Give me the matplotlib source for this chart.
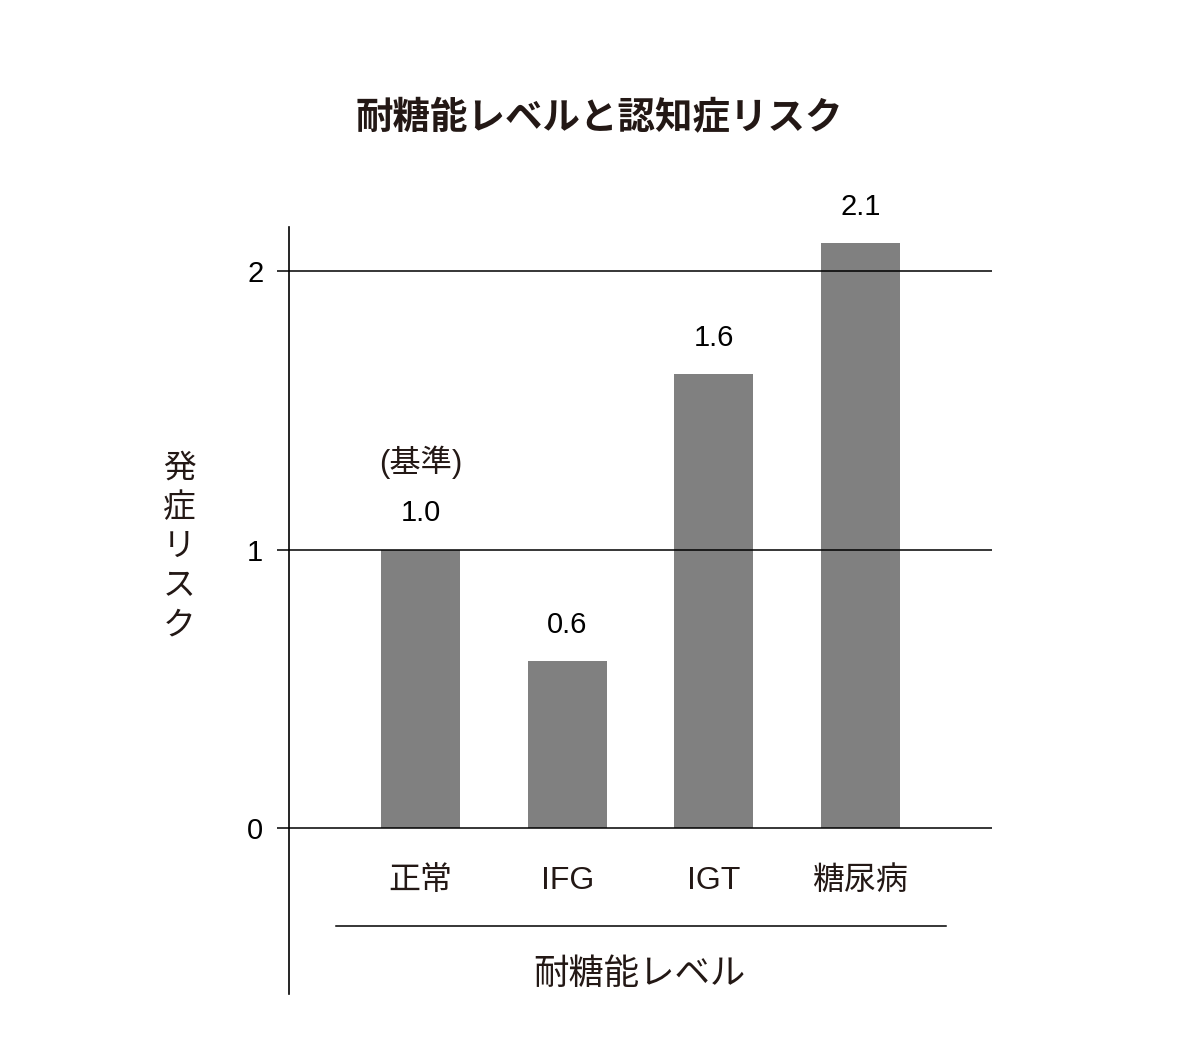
import matplotlib
matplotlib.use("Agg")
import matplotlib.pyplot as plt

plt.rcParams['font.family'] = ['Noto Sans CJK JP', 'DejaVu Sans']

# data
categories = ['正常', 'IFG', 'IGT', '糖尿病']
risk = [1.0, 0.6, 1.63, 2.1]
risk_labels = ['1.0', '0.6', '1.6', '2.1']
yticks = [0, 1, 2]

text_color = '#231815'
latin = ['Liberation Sans', 'Noto Sans CJK JP']

fig = plt.figure(figsize=(12, 10.64), dpi=100)
ax = fig.add_axes([289/1200, 70/1064, (992-289)/1200, (994-227)/1064])

x = list(range(len(categories)))
ax.bar(x, risk, width=0.54, color='#808080', zorder=1)

ax.set_xlim(-0.896, 3.896)
ax.set_ylim(-0.596, 2.158)

ax.set_yticks(yticks)
ax.set_yticklabels([str(t) for t in yticks], fontsize=21, family=latin)
ax.yaxis.grid(True, color='black', linewidth=1.1, zorder=2)
ax.set_axisbelow(False)
ax.tick_params(axis='y', length=8.5, width=1.1, pad=10, colors='black')
ax.set_xticks([])
for s in ['top', 'right', 'bottom']:
    ax.spines[s].set_visible(False)
ax.spines['left'].set_linewidth(1.2)

# value labels
for xi, v, lab in zip(x, risk, risk_labels):
    ax.annotate(lab, (xi, v), xytext=(0, 26), textcoords='offset points',
                ha='center', va='center', fontsize=21, color='black', family=latin)
ax.annotate('(基準)', (0, risk[0]), xytext=(0, 62.5), textcoords='offset points',
            ha='center', va='center', fontsize=22.5, color=text_color, family=latin)

# category labels
for xi, c in zip(x, categories):
    ax.text(xi, -0.19, c, ha='center', va='center', fontsize=23, color=text_color,
            family=latin)

ax.plot([-0.576, 3.582], [-0.352, -0.352], color='black', linewidth=1.1)
ax.text(1.49, -0.524, '耐糖能レベル', ha='center', va='center', fontsize=25.5,
        color=text_color)

fig.text(179/1200, 1 - 547/1064, '\n'.join('発症リスク'), ha='center', va='center',
         fontsize=23.5, linespacing=1.28, color=text_color)

fig.text(599/1200, 1 - 118/1064, '耐糖能レベルと認知症リスク', ha='center', va='center',
         fontsize=27, fontweight='bold', color=text_color)

fig.savefig('out.png', dpi=100, facecolor='white')
